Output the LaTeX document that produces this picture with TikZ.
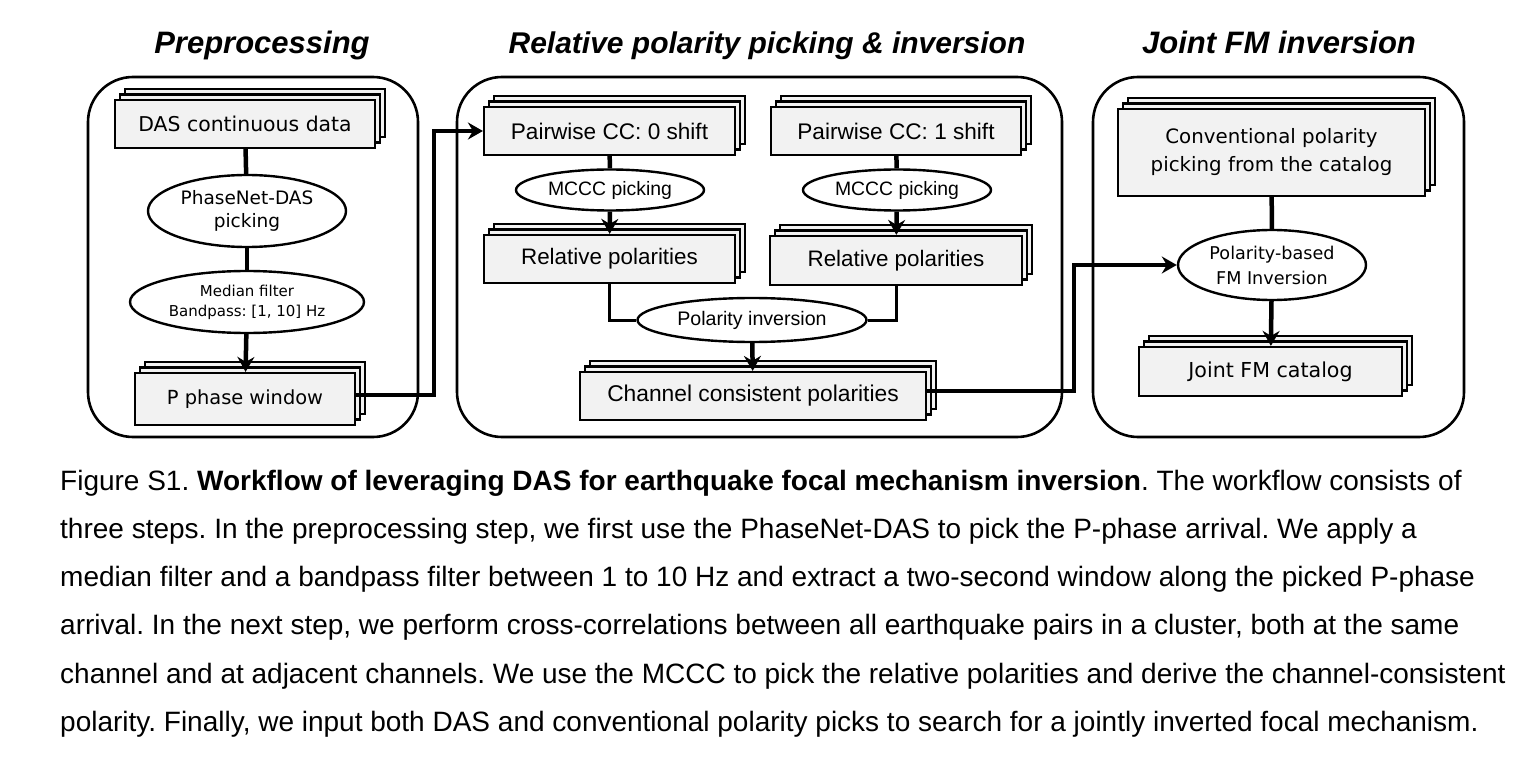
\documentclass[tikz,border=0pt]{standalone}
\usepackage{fontspec}
\setmainfont{Liberation Sans}
\newfontfamily\dv{DejaVu Sans}
\usetikzlibrary{shapes.geometric,shadows,arrows.meta}
\definecolor{boxgray}{RGB}{242,242,242}
\newcommand{\fsz}[2]{\fontsize{#1}{#2}\selectfont}
\frenchspacing
\begin{document}
\begin{tikzpicture}[x=1pt,y=-1pt,
  panel/.style={draw, line width=2.6pt, rounded corners=45pt},
  stackbox/.style={draw, line width=2.2pt, fill=boxgray, inner sep=0pt, align=center,
    double copy shadow={shadow xshift=5pt, shadow yshift=5.5pt, draw=black, fill=boxgray, line width=2.2pt}},
  oval/.style={ellipse, draw, line width=2.4pt, fill=white, inner sep=0pt, align=center},
  conn/.style={line width=4.5pt},
  thinconn/.style={line width=3pt},
  arr/.style={-{Stealth[length=15pt,width=17pt,inset=5pt]}},
  ttl/.style={anchor=base, font=\fsz{31}{31}\bfseries\itshape},
  captxt/.style={anchor=base west, inner sep=0pt, font=\fsz{28}{32}}
]
\useasboundingbox (0,0) rectangle (1529,770);
\fill[white] (0,0) rectangle (1529,770);

% titles
\node[ttl] (t1) at (262,54) {Preprocessing};
\node[ttl, font=\fsz{30}{30}\bfseries\itshape] (t2) at (767,54) {Relative polarity picking \& inversion};
\node[ttl] (t3) at (1279,54) {Joint FM inversion};

% panels
\draw[panel] (88,77) rectangle (418,437);
\draw[panel] (457,77) rectangle (1062,437);
\draw[panel] (1093,77) rectangle (1464,437);

% left panel
\node[stackbox, minimum width=260pt, minimum height=48pt, font=\dv\fsz{20.4}{24}] (das) at (245,124) {DAS continuous data};
\node[oval, minimum width=198pt, minimum height=72pt, font=\dv\fsz{18.5}{23}] (pnet) at (247,211) {PhaseNet-DAS\\picking};
\node[oval, minimum width=234pt, minimum height=62pt, font=\dv\fsz{15}{20}] (med) at (247,302) {Median filter\\Bandpass: [1, 10] Hz};
\node[stackbox, minimum width=220pt, minimum height=52pt, font=\dv\fsz{19.4}{23}] (pwin) at (245,399) {P phase window};

\draw[conn] (das) -- (pnet);
\draw[conn] (pnet) -- (med);
\draw[conn, arr] (med) -- (pwin);

% middle panel
\node[stackbox, minimum width=251pt, minimum height=48pt, font=\fsz{22.6}{26}] (pw0) at (609.5,131) {Pairwise CC: 0 shift};
\node[stackbox, minimum width=250pt, minimum height=48pt, font=\fsz{22.6}{26}] (pw1) at (896,131) {Pairwise CC: 1 shift};
\node[oval, minimum width=188pt, minimum height=41pt, font=\fsz{19.4}{22}] (mc0) at (610,190) {MCCC picking};
\node[oval, minimum width=188pt, minimum height=41pt, font=\fsz{19.4}{22}] (mc1) at (897,190) {MCCC picking};
\node[stackbox, minimum width=251pt, minimum height=48pt, font=\fsz{22.4}{26}] (rel0) at (609.5,259) {Relative polarities};
\node[stackbox, minimum width=252pt, minimum height=49pt, font=\fsz{22.4}{26}] (rel1) at (896,260.5) {Relative polarities};
\node[oval, minimum width=229pt, minimum height=44pt, font=\fsz{19.6}{22}] (pinv) at (752,320) {Polarity inversion};
\node[stackbox, minimum width=346pt, minimum height=48pt, font=\fsz{22.8}{26}] (chan) at (753,396) {Channel consistent polarities};

\draw[conn] (pw0) -- (mc0);
\draw[conn] (pw1) -- (mc1);
\draw[conn, arr] (mc0) -- (rel0);
\draw[conn, arr] (mc1) -- (rel1);
\draw[thinconn] (rel0.south) |- (pinv.west);
\draw[thinconn] (rel1.south) |- (pinv.east);
\draw[conn, arr] (pinv) -- (chan);

% right panel
\node[stackbox, minimum width=307pt, minimum height=87pt, font=\dv\fsz{19.8}{28}] (conv) at (1271.5,152.5) {Conventional polarity\\picking from the catalog};
\node[oval, minimum width=188pt, minimum height=70pt, font=\dv\fsz{17.6}{25}] (pfm) at (1272,265) {Polarity-based\\FM Inversion};
\node[stackbox, minimum width=263pt, minimum height=49pt, font=\dv\fsz{20.6}{24}] (jfm) at (1270.5,371.5) {Joint FM catalog};

\draw[conn] (conv) -- (pfm);
\draw[conn, arr] (pfm) -- (jfm);

% inter-panel connectors
\coordinate (j1) at (434,0);
\coordinate (j2) at (1074,0);
\draw[conn, arr] ([yshift=4pt]pwin.east) -- ([yshift=4pt]pwin.east -| j1) |- (pw0.west);
\draw[conn, arr] ([yshift=5pt]chan.east) -- ([yshift=5pt]chan.east -| j2) |- (pfm.west);

% caption
\node[captxt] (c1) at (60,490) {Figure S1. \textbf{Workflow of leveraging DAS for earthquake focal mechanism inversion}. The workflow consists of};
\node[captxt] (c2) at (60,538) {three steps. In the preprocessing step, we first use the PhaseNet-DAS to pick the P-phase arrival. We apply a};
\node[captxt] (c3) at (60,586) {median filter and a bandpass filter between 1 to 10 Hz and extract a two-second window along the picked P-phase};
\node[captxt] (c4) at (60,634) {arrival. In the next step, we perform cross-correlations between all earthquake pairs in a cluster, both at the same};
\node[captxt] (c5) at (60,683) {channel and at adjacent channels. We use the MCCC to pick the relative polarities and derive the channel-consistent};
\node[captxt] (c6) at (60,731) {polarity. Finally, we input both DAS and conventional polarity picks to search for a jointly inverted focal mechanism.};
\end{tikzpicture}
\end{document}
